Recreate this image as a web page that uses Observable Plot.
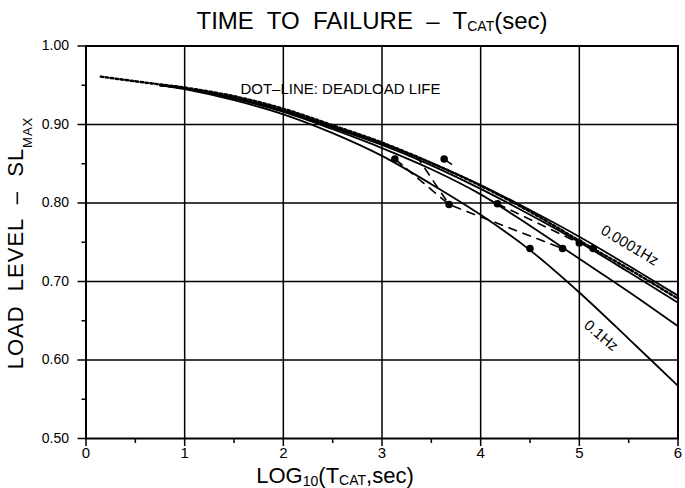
<!DOCTYPE html>
<html><head><meta charset="utf-8">
<script src="https://cdn.jsdelivr.net/npm/d3@7"></script>
<script src="https://cdn.jsdelivr.net/npm/@observablehq/plot@0.6"></script>
<style>
body{margin:0;background:#fff;font-family:"Liberation Sans",Arial,sans-serif;}
#title{width:685px;height:38px;box-sizing:border-box;padding-top:3px;padding-left:59px;text-align:center;font-size:24px;line-height:35px;color:#000;white-space:pre;}
#title .sub{font-size:14px;position:relative;top:2px;}
svg text{white-space:pre;}
</style></head><body>
<div id="title">TIME  TO  FAILURE  –  T<span class="sub">CAT</span>(sec)</div>
<div id="chart"></div>
<script>
// ---- tick values ----
const xTicks = [0, 1, 2, 3, 4, 5, 6];
const xMinor = [0.5, 1.5, 2.5, 3.5, 4.5, 5.5];
const yTicks = [0.5, 0.6, 0.7, 0.8, 0.9, 1.0];
const yMinor = [0.55, 0.65, 0.75, 0.85, 0.95];
const xGrid = [1, 2, 3, 4, 5];
const yGrid = [0.6, 0.7, 0.8, 0.9];

// ---- model curves (log10 time, load level) ----
const curveX  = [0.75, 1.0, 1.5, 2.0, 2.5, 3.0, 3.5, 4.0, 4.5, 5.0, 5.5, 6.0];
const hz00001 = [0.950, 0.946, 0.934, 0.918, 0.897, 0.876, 0.851, 0.823, 0.791, 0.757, 0.720, 0.682];
const hz0001  = [0.950, 0.946, 0.934, 0.917, 0.896, 0.874, 0.848, 0.818, 0.785, 0.750, 0.712, 0.673];
const hz001   = [0.950, 0.946, 0.933, 0.916, 0.894, 0.870, 0.843, 0.811, 0.771, 0.729, 0.687, 0.643];
const hz01    = [0.950, 0.945, 0.931, 0.913, 0.889, 0.860, 0.824, 0.785, 0.740, 0.686, 0.627, 0.567];
const seriesNames = ["0.0001Hz", "0.001Hz", "0.01Hz", "0.1Hz"];
const seriesValues = [hz00001, hz0001, hz001, hz01];

// ---- dead-load life (dotted) ----
const deadX = [0.15, 0.5, 0.75, 1.0, 1.5, 2.0, 2.5, 3.0, 3.5, 4.0, 4.5, 5.0, 5.5, 6.0];
const deadY = [0.961, 0.955, 0.951, 0.947, 0.936, 0.920, 0.899, 0.877, 0.851, 0.822, 0.789, 0.752, 0.716, 0.678];

// ---- test data points ----
const pointX = [3.13, 3.63, 3.68, 4.17, 4.50, 4.83, 5.00, 5.14];
const pointY = [0.856, 0.856, 0.798, 0.799, 0.742, 0.742, 0.749, 0.742];

// ---- dashed trend lines through data ----
const dashId = ["a", "a", "a", "b", "b", "c", "c"];
const dashX  = [3.13, 3.68, 4.83, 3.35, 3.68, 4.17, 5.00];
const dashY  = [0.856, 0.798, 0.742, 0.860, 0.798, 0.799, 0.749];

// ---- short tails on run-out points ----
const tailX1 = [3.13, 3.63], tailY1 = [0.856, 0.856];
const tailX2 = [3.21, 3.71], tailY2 = [0.848, 0.849];

// ---- annotations ----
const noteText = ["DOT–LINE: DEADLOAD LIFE"];
const noteX = [1.565], noteY = [0.9446];
const hzText = ["0.0001Hz", "0.1Hz"];
const hzX = [5.51, 5.22], hzY = [0.746, 0.631], hzRot = [31, 40];

const curveRows = seriesNames.flatMap((s, k) => curveX.map((x, i) => ({x, y: seriesValues[k][i], s})));
const deadRows = deadX.map((x, i) => ({x, y: deadY[i]}));
const pointRows = pointX.map((x, i) => ({x, y: pointY[i]}));
const dashRows = dashX.map((x, i) => ({x, y: dashY[i], id: dashId[i]}));
const tailRows = tailX1.map((x, i) => ({x1: x, y1: tailY1[i], x2: tailX2[i], y2: tailY2[i]}));
const noteRows = noteText.map((t, i) => ({t, x: noteX[i], y: noteY[i]}));
const hzRows = hzText.map((t, i) => ({t, x: hzX[i], y: hzY[i], r: hzRot[i]}));

const chart = Plot.plot({
  width: 685, height: 450,
  marginLeft: 85.5, marginRight: 7.5, marginTop: 7.5, marginBottom: 50,
  style: {fontFamily: "Liberation Sans, Arial, sans-serif", color: "#000", background: "#fff"},
  x: {domain: [0, 6]},
  y: {domain: [0.5, 1.0]},
  marks: [
    Plot.gridX(xGrid, {stroke: "#000", strokeOpacity: 1, strokeWidth: 1.5}),
    Plot.gridY(yGrid, {stroke: "#000", strokeOpacity: 1, strokeWidth: 1.5}),
    Plot.frame({stroke: "#000", strokeWidth: 2}),
    Plot.axisY(yTicks, {tickSize: 8, tickPadding: 9, tickFormat: d3.format(".2f"), fontSize: 14, label: null, strokeWidth: 1.5}),
    Plot.axisY(yMinor, {tickSize: 4, tickFormat: () => "", label: null, strokeWidth: 1.5}),
    Plot.axisX(xTicks, {tickSize: 8, tickPadding: 1, tickFormat: d3.format("d"), fontSize: 15, label: null, strokeWidth: 1.5}),
    Plot.axisX(xMinor, {tickSize: 5, tickFormat: () => "", label: null, strokeWidth: 1.5}),
    Plot.line(curveRows, {x: "x", y: "y", z: "s", curve: "catmull-rom", stroke: "#000", strokeWidth: 1.8}),
    Plot.line(deadRows, {x: "x", y: "y", curve: "catmull-rom", stroke: "#000", strokeWidth: 2.5, strokeDasharray: "2.5,2.5"}),
    Plot.line(dashRows, {x: "x", y: "y", z: "id", stroke: "#000", strokeWidth: 1.6, strokeDasharray: "8,7"}),
    Plot.link(tailRows, {x1: "x1", y1: "y1", x2: "x2", y2: "y2", stroke: "#000", strokeWidth: 1.6}),
    Plot.dot(pointRows, {x: "x", y: "y", r: 3.8, fill: "#000", stroke: null}),
    Plot.text(noteRows, {x: "x", y: "y", text: "t", textAnchor: "start", fontSize: 15, fill: "#000"}),
    Plot.text(hzRows, {x: "x", y: "y", text: "t", rotate: "r", fontSize: 15, fill: "#000"})
  ]
});
document.getElementById("chart").appendChild(chart);

// axis titles with subscripts
const svg = d3.select(chart);
const yl = svg.append("text")
  .attr("transform", "translate(23,205) rotate(-90)")
  .attr("text-anchor", "middle")
  .attr("font-size", 22)
  .attr("letter-spacing", 1)
  .attr("fill", "#000");
yl.append("tspan").text("LOAD  LEVEL  –  SL");
yl.append("tspan").attr("font-size", 13).attr("dy", 9).text("MAX");

const xl = svg.append("text")
  .attr("x", 335).attr("y", 445)
  .attr("text-anchor", "middle")
  .attr("font-size", 22)
  .attr("fill", "#000");
xl.append("tspan").text("LOG");
xl.append("tspan").attr("font-size", 14).attr("dy", 3).text("10");
xl.append("tspan").attr("dy", -3).text("(T");
xl.append("tspan").attr("font-size", 14).attr("dy", 2).text("CAT");
xl.append("tspan").attr("dy", -2).text(",sec)");
</script>
</body></html>
